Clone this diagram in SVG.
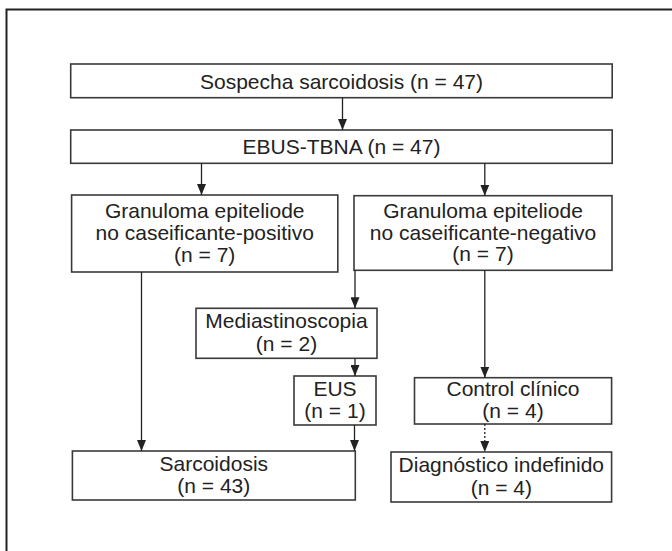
<svg xmlns="http://www.w3.org/2000/svg" width="672" height="551" viewBox="0 0 672 551">
<style>
.box{fill:#fff;stroke:#3a3a3a;stroke-width:1.6}
.t{font-family:"Liberation Sans",Arial,sans-serif;font-size:21px;fill:#222;text-anchor:middle}
.c{stroke:#222;stroke-width:1.3;fill:none}
.d{stroke-dasharray:2,2}
.frame{stroke:#222;stroke-width:2;fill:none}
</style>
<defs>
<marker id="ah" markerUnits="userSpaceOnUse" markerWidth="9" markerHeight="12" refX="4.5" refY="11" orient="auto-start-reverse" viewBox="0 0 9 12">
<path d="M0,0 L9,0 L4.5,11 Z" fill="#222" transform="rotate(0)"/>
</marker>
<marker id="a" markerUnits="userSpaceOnUse" markerWidth="12" markerHeight="9" refX="11" refY="4.5" orient="auto" viewBox="0 0 12 9">
<path d="M0,0 L11,4.5 L0,9 Z" fill="#222"/>
</marker>
</defs>
<path class="frame" d="M6.5,551 V9.5 H672"/>
<g id="n1"><rect class="box" x="70.7" y="64" width="541.5" height="33.7"/><text class="t" x="341.5" y="88.5">Sospecha sarcoidosis (n = 47)</text></g>
<g id="n2"><rect class="box" x="70.7" y="130" width="541.5" height="33.3"/><text class="t" x="341.5" y="154">EBUS-TBNA (n = 47)</text></g>
<g id="n3"><rect class="box" x="71.6" y="195" width="266.2" height="77"/><text class="t" x="204.7" y="217.5">Granuloma epiteliode</text><text class="t" x="204.7" y="239.5">no caseificante-positivo</text><text class="t" x="204.7" y="261.5">(n = 7)</text></g>
<g id="n4"><rect class="box" x="354" y="195.7" width="258" height="74.6"/><text class="t" x="483" y="217.5">Granuloma epiteliode</text><text class="t" x="483" y="239.5">no caseificante-negativo</text><text class="t" x="483" y="261">(n = 7)</text></g>
<g id="n5"><rect class="box" x="196" y="308.3" width="181" height="50"/><text class="t" x="286.5" y="328">Mediastinoscopia</text><text class="t" x="286.5" y="350.5">(n = 2)</text></g>
<g id="n6"><rect class="box" x="294" y="376" width="82" height="49"/><text class="t" x="335" y="395.5">EUS</text><text class="t" x="335" y="417.5">(n = 1)</text></g>
<g id="n7"><rect class="box" x="414.5" y="377.7" width="197.1" height="46.3"/><text class="t" x="513" y="395.5">Control clínico</text><text class="t" x="513" y="418">(n = 4)</text></g>
<g id="n8"><rect class="box" x="72.4" y="451" width="282.9" height="49"/><text class="t" x="213.8" y="470.5">Sarcoidosis</text><text class="t" x="213.8" y="493">(n = 43)</text></g>
<g id="n9"><rect class="box" x="391" y="452" width="220.6" height="50"/><text class="t" x="501.3" y="472">Diagnóstico indefinido</text><text class="t" x="501.3" y="494.5">(n = 4)</text></g>
<g id="connectors">
<path class="c" d="M342.5,97.7 V130" marker-end="url(#a)"/>
<path class="c" d="M201.5,163.3 V195" marker-end="url(#a)"/>
<path class="c" d="M484.8,163.3 V195.7" marker-end="url(#a)"/>
<path class="c" d="M141.5,272 V451" marker-end="url(#a)"/>
<path class="c" d="M355,270.3 V308.3" marker-end="url(#a)"/>
<path class="c" d="M355,358.3 V376" marker-end="url(#a)"/>
<path class="c" d="M354.5,425 V451" marker-end="url(#a)"/>
<path class="c" d="M484.8,270.3 V377.7" marker-end="url(#a)"/>
<path class="c d" d="M484.8,424 V452" marker-end="url(#a)"/>
</g>
</svg>
